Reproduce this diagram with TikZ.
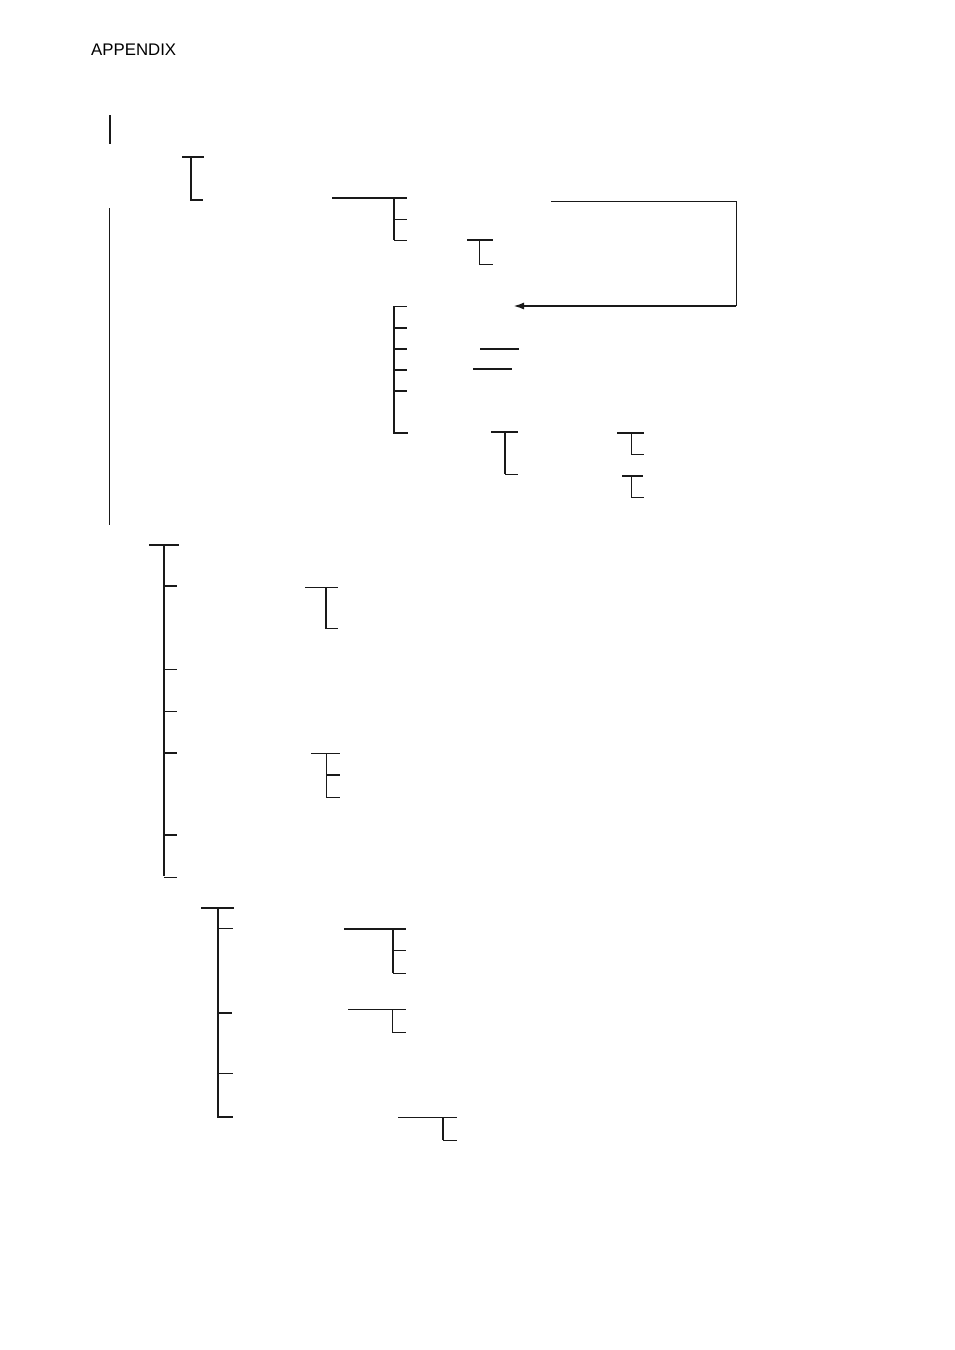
\documentclass[tikz,border=0pt]{standalone}
\usepackage{fontspec}
\setmainfont{Liberation Sans}
\usetikzlibrary{arrows.meta}
\begin{document}
\begin{tikzpicture}[x=1pt,y=-1pt,
  thinln/.style={line width=0.9pt, color=black!90},
  thickln/.style={line width=2pt, color=black!90},
  midln/.style={line width=1.3pt, color=black!90}]
\useasboundingbox (0,0) rectangle (954,1350);
\node[anchor=base west, inner sep=0pt, font=\fontsize{16.8}{18}\selectfont] (title) at (91,55) {APPENDIX};
% top marks
\draw[thickln] (110,115) -- (110,144);
\draw[thickln] (182,157) -- (204,157);
\draw[midln] (191,157) -- (191,200) -- (203,200);
\draw[thinln] (109,208) -- (109,525);
% bracket A
\draw[thickln] (332,198) -- (407,198);
\draw[thickln] (394,198) -- (394,240);
\draw[thinln] (394,219) -- (407,219);
\draw[thinln] (394,240) -- (407,240);
% bracket B
\draw[thickln] (467,240) -- (493,240);
\draw[thinln] (479,240) -- (479,264) -- (493,264);
% arrow loop
\draw[thinln] (551,201) -- (736,201) -- (736,306);
\draw[thickln, -{Latex[length=11pt,width=7pt]}] (736,306) -- (513,306);
% bracket C
\draw[thickln] (394,306) -- (394,433);
\draw[thinln] (394,306) -- (407,306);
\foreach \yy in {328,349,370,391} \draw[thickln] (394,\yy) -- (407,\yy);
\draw[thickln] (393,433) -- (408,433);
\draw[thickln] (480,349) -- (519,349);
\draw[thickln] (473,369) -- (512,369);
% bracket D
\draw[thickln] (491,432) -- (518,432);
\draw[thickln] (505,432) -- (505,474);
\draw[thinln] (505,474) -- (518,474);
% brackets E, F
\draw[thickln] (617,433) -- (644,433);
\draw[thinln] (631,433) -- (631,454) -- (644,454);
\draw[thickln] (622,476) -- (643,476);
\draw[thinln] (631,476) -- (631,497) -- (644,497);
% middle tree
\draw[thickln] (149,545) -- (179,545);
\draw[thickln] (164,545) -- (164,876);
\draw[thickln] (164,586) -- (177,586);
\draw[thinln] (164,669) -- (177,669);
\draw[thinln] (164,711) -- (177,711);
\draw[thickln] (164,753) -- (177,753);
\draw[thickln] (164,835) -- (177,835);
\draw[thinln] (164,877) -- (177,877);
\draw[thinln] (305,587) -- (338,587);
\draw[thickln] (326,587) -- (326,629);
\draw[thinln] (326,628) -- (338,628);
\draw[thinln] (311,753) -- (340,753);
\draw[thinln] (326,753) -- (326,797) -- (340,797);
\draw[thickln] (326,775) -- (340,775);
% bottom tree
\draw[thickln] (201,908) -- (234,908);
\draw[midln] (218,908) -- (218,1117);
\draw[thinln] (218,928) -- (233,928);
\draw[thickln] (218,1013) -- (232,1013);
\draw[thinln] (218,1073) -- (233,1073);
\draw[thickln] (217,1117) -- (233,1117);
\draw[thickln] (344,929) -- (406,929);
\draw[thickln] (393,929) -- (393,973);
\draw[thinln] (393,950) -- (406,950);
\draw[thinln] (393,973) -- (406,973);
\draw[thinln] (348,1009) -- (406,1009);
\draw[thinln] (392,1009) -- (392,1032) -- (406,1032);
\draw[thinln] (398,1117) -- (457,1117);
\draw[thickln] (443,1117) -- (443,1140);
\draw[thinln] (443,1140) -- (457,1140);
\end{tikzpicture}
\end{document}
